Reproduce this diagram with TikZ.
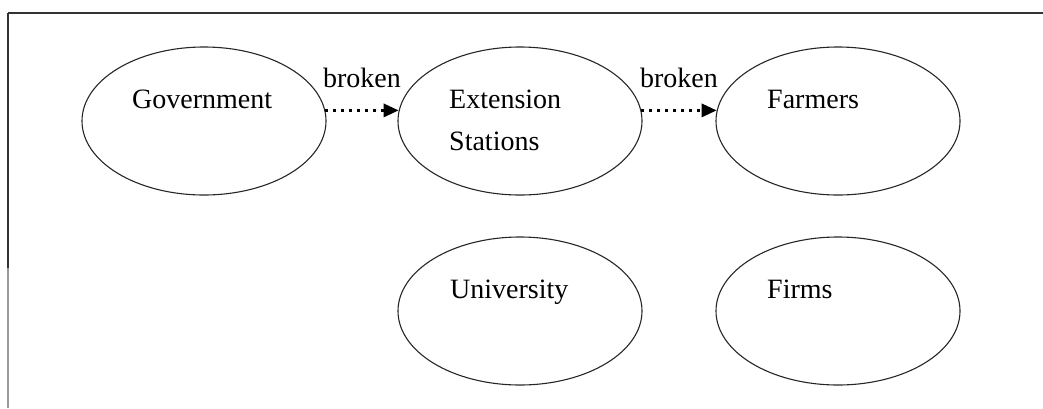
\documentclass[tikz,border=0pt]{standalone}
\usepackage{fontspec}
\setmainfont{Liberation Serif}
\usetikzlibrary{arrows.meta,shapes.geometric}
\begin{document}
\begin{tikzpicture}[x=1pt, y=-1pt,
  actor/.style={ellipse, draw=black!85, line width=1.1pt, minimum width=244pt, minimum height=148pt, inner sep=0pt},
  lbl/.style={anchor=base west, inner sep=0pt, font=\fontsize{28}{42}\selectfont},
  tie/.style={line width=3pt, dash pattern=on 3pt off 5pt, -{Triangle[length=15pt,width=13pt]}},
  tietext/.style={midway, anchor=base, yshift=23pt, inner sep=0pt, font=\fontsize{28}{42}\selectfont}]
  \useasboundingbox (0,0) rectangle (1043,408);
  % frame (top and left edges only)
  \draw[line width=2pt, black!80] (8,12.5) -- (1043,12.5);
  \draw[line width=1.2pt, black!80] (8,12.5) -- (8,268);
  \draw[line width=1.2pt, black!40] (8,268) -- (8,408);
  % actors
  \node[actor] (gov) at (204,121) {};
  \node[actor] (ext) at (520,121) {};
  \node[actor] (farm) at (838,121) {};
  \node[actor] (uni) at (520,311) {};
  \node[actor] (firm) at (838,311) {};
  % names
  \node[lbl] (govtxt) at (132,108) {Government};
  \node[lbl] (exttxt) at (449,108) {Extension};
  \node[lbl] (stattxt) at (449,150) {Stations};
  \node[lbl] (farmtxt) at (767,108) {Farmers};
  \node[lbl] (unitxt) at (450,298) {University};
  \node[lbl] (firmtxt) at (767,298) {Firms};
  % broken links
  \draw[tie] (gov.5) -- (ext.175) node[tietext] {broken};
  \draw[tie] (ext.5) -- (farm.175) node[tietext] {broken};
\end{tikzpicture}
\end{document}
